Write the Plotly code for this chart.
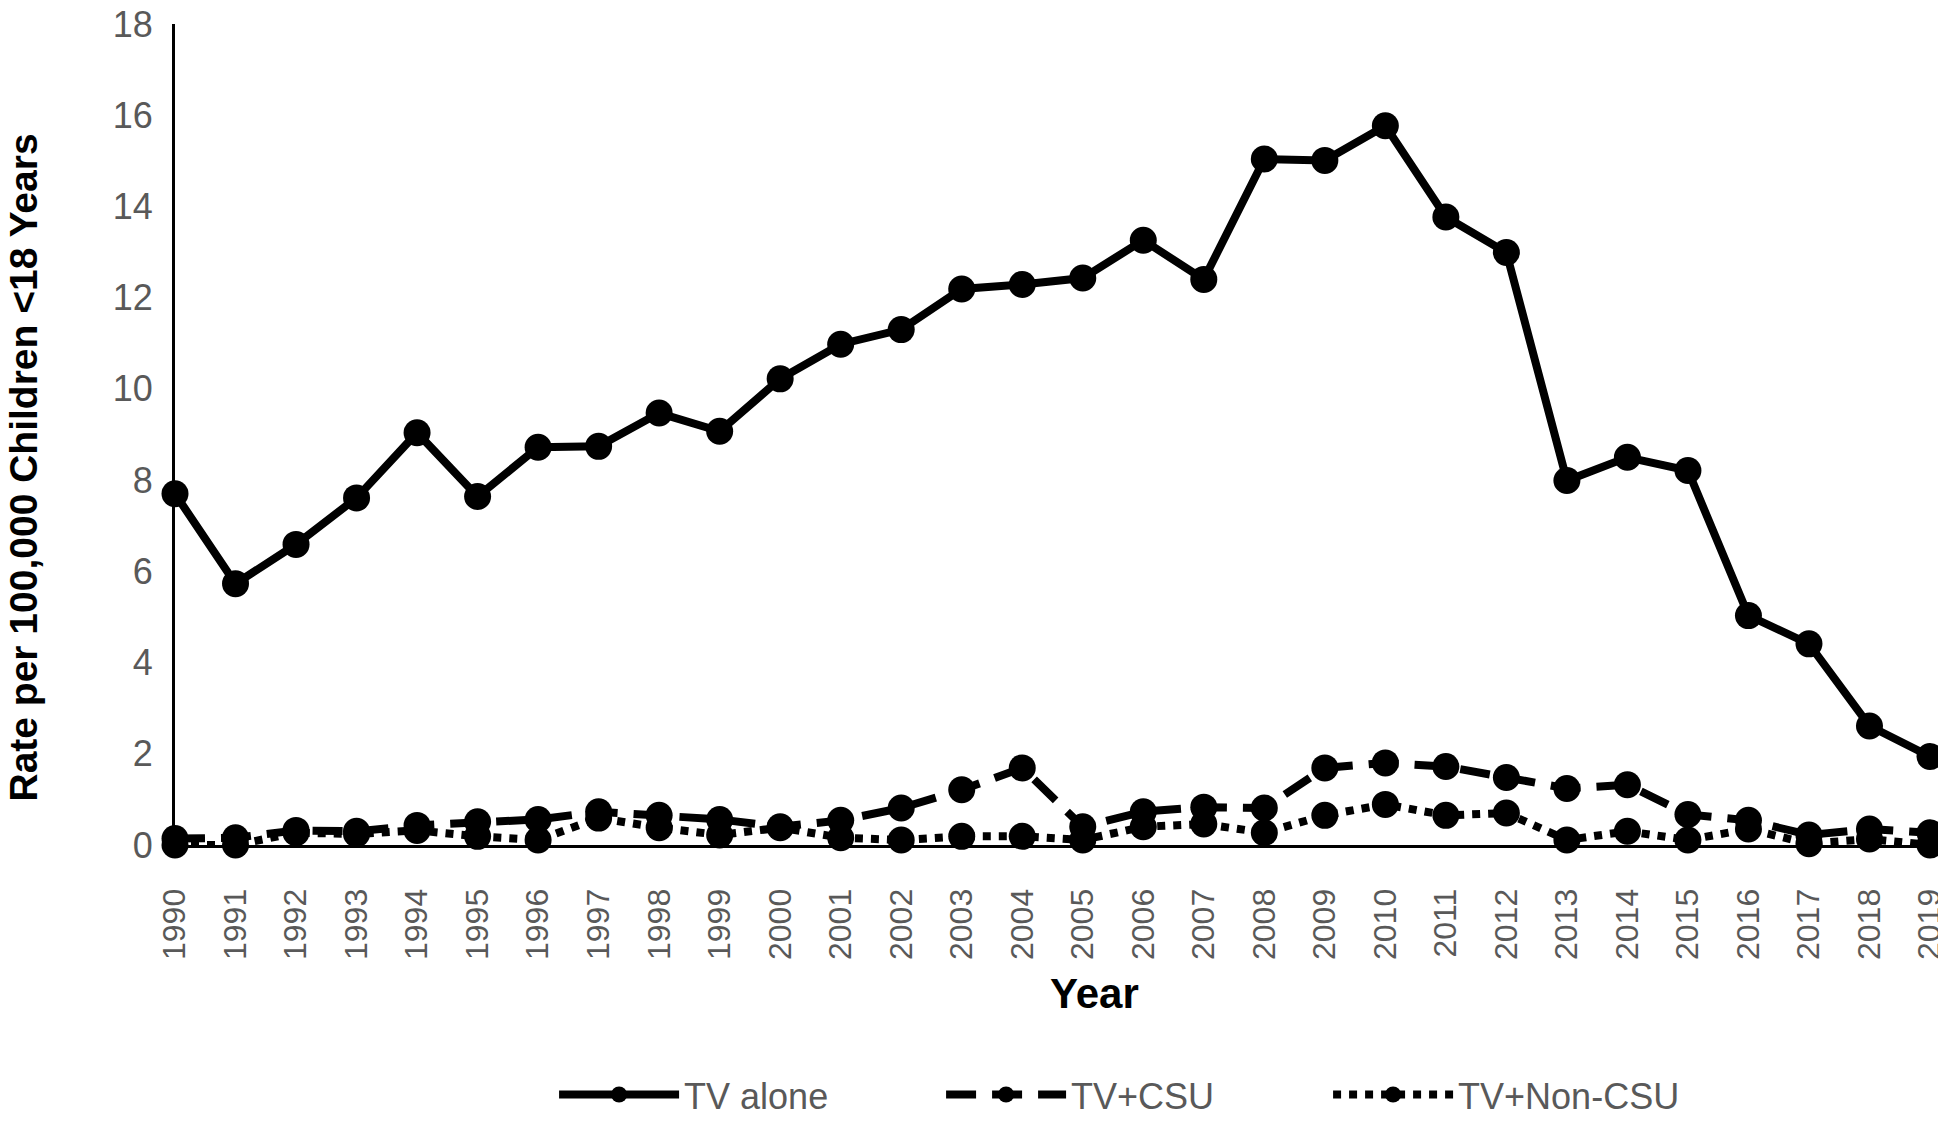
import plotly.graph_objects as go

years = list(range(1990, 2020))

tv_alone = [7.7, 5.73, 6.59, 7.61, 9.04, 7.64, 8.72, 8.74, 9.47, 9.07,
            10.22, 10.98, 11.30, 12.19, 12.29, 12.43, 13.26, 12.40, 15.04, 15.01,
            15.77, 13.77, 12.99, 7.99, 8.50, 8.21, 5.03, 4.41, 2.61, 1.94]

tv_csu = [0.14, 0.16, 0.32, 0.30, 0.43, 0.51, 0.56, 0.73, 0.65, 0.56,
          0.40, 0.54, 0.81, 1.21, 1.69, 0.40, 0.73, 0.83, 0.81, 1.69,
          1.80, 1.72, 1.48, 1.24, 1.32, 0.67, 0.54, 0.22, 0.35, 0.27]

tv_noncsu = [0.0, 0.0, 0.27, 0.24, 0.32, 0.19, 0.11, 0.59, 0.38, 0.22,
             0.38, 0.16, 0.11, 0.19, 0.19, 0.11, 0.40, 0.46, 0.27, 0.65,
             0.89, 0.65, 0.70, 0.11, 0.30, 0.11, 0.35, 0.03, 0.13, 0.0]

series_names = ["TV alone", "TV+CSU", "TV+Non-CSU"]
y_ticks = list(range(0, 19, 2))

FONT = "Liberation Sans"
GRAY = "#595959"

fig = go.Figure()
styles = ["solid", "30px,16px", "dot"]
for name, vals, dash in zip(series_names, [tv_alone, tv_csu, tv_noncsu], styles):
    fig.add_trace(go.Scatter(
        x=years, y=vals, name=name, mode="lines+markers",
        line=dict(color="black", width=8, dash=dash),
        marker=dict(color="black", size=27, symbol="circle"),
        cliponaxis=False,
    ))

fig.update_layout(
    width=1938, height=1116,
    margin=dict(l=167, r=16, t=16, b=279, autoexpand=False),
    plot_bgcolor="white", paper_bgcolor="white",
    font=dict(family=FONT, color=GRAY),
    showlegend=True,
    legend=dict(orientation="h", x=0.216, xanchor="left", y=-0.304, yanchor="middle",
                font=dict(family=FONT, size=36, color=GRAY),
                bgcolor="rgba(0,0,0,0)",
                itemwidth=120, tracegroupgap=0, entrywidth=252),
    xaxis=dict(range=[1990, 2019], tickmode="array", tickvals=years,
               ticktext=[str(y) for y in years], tickangle=-90,
               tickfont=dict(family=FONT, size=32, color=GRAY),
               showgrid=False, zeroline=False, showline=True, automargin=False,
               linecolor="black", linewidth=3, ticks="", ticklabelstandoff=28,
               ticklabeloverflow="allow"),
    yaxis=dict(range=[0, 18], tickmode="array", tickvals=y_ticks,
               tickfont=dict(family=FONT, size=36, color=GRAY),
               showgrid=False, zeroline=False, showline=True, automargin=False,
               linecolor="black", linewidth=3, ticks="", ticklabelstandoff=12,
               ticklabeloverflow="allow"),
    annotations=[
        dict(text="<b>Rate per 100,000 Children <18 Years</b>", xref="paper", yref="paper",
             x=-0.0865, y=0.46, xanchor="center", yanchor="middle", textangle=-90,
             showarrow=False, font=dict(family=FONT, size=39, color="black")),
        dict(text="<b>Year</b>", xref="paper", yref="paper",
             x=0.524, y=-0.181, xanchor="center", yanchor="middle",
             showarrow=False, font=dict(family=FONT, size=42, color="black")),
    ],
)

fig.write_html("out.html")
